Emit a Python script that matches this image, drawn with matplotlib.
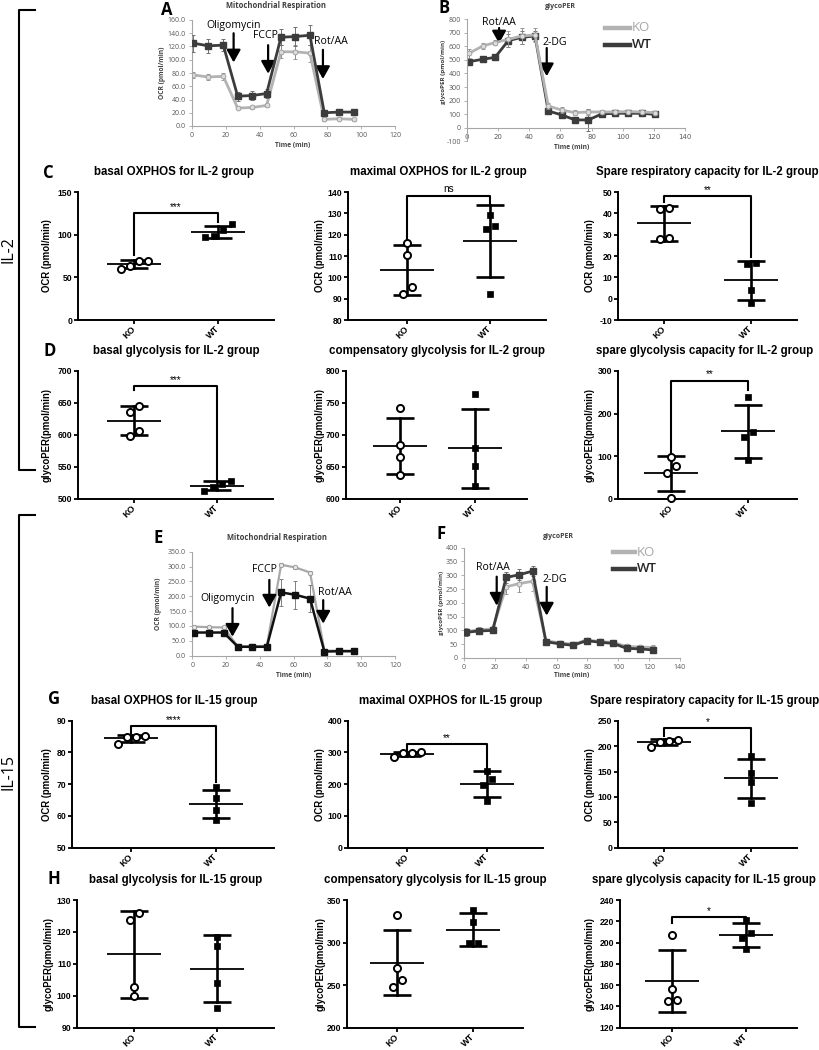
import numpy as np
import matplotlib
matplotlib.use('Agg')
import matplotlib.pyplot as plt
from matplotlib.lines import Line2D

# ---------------- data ----------------
groups = ['KO', 'WT']

# Panel A: IL-2 mitochondrial respiration (OCR)
time_A = [0.8, 9.6, 18.5, 27.0, 35.6, 44.1, 52.6, 61.0, 69.7, 78.2, 87.1, 95.8]
ocr_A_ko = [77, 74, 75, 27, 28, 31, 112, 112, 110, 10, 11, 10]
ocr_A_ko_err = [5, 5, 5, 2, 2, 2, 10, 11, 13, 2, 2, 2]
ocr_A_wt = [125, 121, 122, 45, 46, 49, 134, 135, 137, 20, 21, 21]
ocr_A_wt_err = [13, 11, 9, 7, 7, 7, 12, 14, 15, 2, 2, 2]

# Panel B: IL-2 glycoPER
time_B = [1.3, 10.1, 18.0, 26.5, 35.1, 43.7, 52.2, 60.8, 69.4, 77.9, 86.5, 95.0, 103.6, 112.2, 120.7]
per_B_ko = [549, 603, 628, 652, 677, 684, 160, 130, 111, 116, 116, 116, 118, 116, 111]
per_B_ko_err = [35, 20, 20, 60, 60, 50, 20, 20, 20, 20, 15, 15, 15, 15, 15]
per_B_wt = [487, 505, 519, 642, 667, 677, 123, 94, 57, 57, 101, 106, 106, 106, 98]
per_B_wt_err = [20, 10, 10, 50, 50, 40, 10, 15, 25, 80, 10, 10, 10, 10, 10]

# Panel E: IL-15 mitochondrial respiration (OCR)
time_E = [0.8, 9.6, 18.5, 27.0, 35.6, 44.1, 52.6, 61.0, 69.7, 78.2, 87.1, 95.8]
ocr_E_ko = [98, 96, 95, 31, 32, 33, 306, 297, 280, 17, 17, 17]
ocr_E_ko_err = [3, 3, 3, 2, 2, 2, 5, 5, 5, 2, 2, 2]
ocr_E_wt = [78, 78, 78, 30, 30, 30, 213, 205, 192, 14, 15, 15]
ocr_E_wt_err = [3, 3, 3, 3, 3, 3, 45, 48, 45, 2, 2, 2]

# Panel F: IL-15 glycoPER
time_F = [1.3, 9.7, 18.6, 27.3, 35.8, 44.4, 53.1, 62.2, 70.8, 79.5, 88.1, 96.7, 105.4, 114.0, 122.7]
per_F_ko = [95, 103, 105, 258, 270, 278, 62, 55, 50, 65, 60, 56, 42, 40, 38]
per_F_ko_err = [15, 10, 10, 25, 30, 35, 8, 8, 8, 8, 8, 8, 8, 8, 8]
per_F_wt = [93, 98, 100, 292, 302, 315, 59, 51, 46, 63, 57, 53, 35, 33, 29]
per_F_wt_err = [12, 8, 8, 20, 20, 18, 8, 8, 8, 8, 8, 8, 8, 8, 8]

# Scatter panels (KO, WT replicate values)
basal_oxphos_il2_ko = [69, 69, 60, 63]
basal_oxphos_il2_wt = [112, 106, 98, 97]
max_oxphos_il2_ko = [116, 110.5, 95.5, 92]
max_oxphos_il2_wt = [129, 124, 122.5, 92]
spare_resp_il2_ko = [42.5, 42, 28.5, 28]
spare_resp_il2_wt = [16.5, 16.2, 4, -2]

basal_glyco_il2_ko = [646, 636, 607, 599]
basal_glyco_il2_wt = [528, 524, 518, 512]
comp_glyco_il2_ko = [742, 685, 665, 638]
comp_glyco_il2_wt = [764, 680, 652, 620]
spare_glyco_il2_ko = [98, 78, 62, 2]
spare_glyco_il2_wt = [240, 157, 145, 92]

basal_oxphos_il15_ko = [85.2, 84.8, 85.0, 82.8]
basal_oxphos_il15_wt = [69, 65.5, 62, 58.7]
max_oxphos_il15_ko = [287, 297, 298, 300]
max_oxphos_il15_wt = [242, 215, 196, 146]
spare_resp_il15_ko = [199, 212, 211, 208]
spare_resp_il15_wt = [180, 148, 129, 88]

basal_glyco_il15_ko = [125.8, 123.7, 102.7, 99.8]
basal_glyco_il15_wt = [118.3, 115.7, 104, 96.1]
comp_glyco_il15_ko = [332, 270, 256, 248]
comp_glyco_il15_wt = [338, 324.5, 299.5, 299]
spare_glyco_il15_ko = [207, 156, 146, 145.5]
spare_glyco_il15_wt = [221, 209, 204, 194]

# ---------------- figure ----------------
W, H = 819, 1050
fig = plt.figure(figsize=(W / 100, H / 100), dpi=100)
SANS = ['Liberation Sans', 'DejaVu Sans']
XL = ['Open Sans', 'DejaVu Sans']


def add_ax(L, R, T, B):
    return fig.add_axes([L / W, 1 - B / H, (R - L) / W, (B - T) / H])


def ftxt(x, y, s, **kw):
    kw.setdefault('ha', 'center')
    kw.setdefault('va', 'center')
    fig.text(x / W, 1 - y / H, s, **kw)


KO_C = '#b3b3b3'
WT_C = '#3c3c3c'
AX_C = '#a6a6a6'
TK_C = '#595959'


def excel_axes(ax, xlim, ylim, xticks, yticks, yfmt):
    ax.set_xlim(xlim)
    ax.set_ylim(ylim)
    for s in ['top', 'right']:
        ax.spines[s].set_visible(False)
    for s in ['left', 'bottom']:
        ax.spines[s].set_color(AX_C)
        ax.spines[s].set_linewidth(0.8)
    ax.set_xticks(xticks)
    ax.set_yticks(yticks)
    ax.set_yticklabels([yfmt % v for v in yticks])
    ax.tick_params(axis='both', length=2.5, width=0.6, color=AX_C, labelsize=5,
                   labelcolor=TK_C, pad=2)
    for lab in ax.get_xticklabels() + ax.get_yticklabels():
        lab.set_family(XL)
    ax.patch.set_alpha(0)


def arrow(ax, x, y0, y1):
    ax.annotate('', xy=(x, y1), xytext=(x, y0), xycoords='data',
                arrowprops=dict(arrowstyle='-|>,head_width=0.42,head_length=0.75',
                                lw=1.6, color='black', shrinkA=0, shrinkB=0,
                                mutation_scale=10),
                annotation_clip=False)


def lbl(ax, x, y, s):
    ax.text(x, y, s, ha='center', va='center', fontsize=7.6, family=XL,
            clip_on=False)


# ---- Panel A ----
axA = add_ax(192, 395, 20, 126)
excel_axes(axA, (0, 120), (0, 160), range(0, 121, 20), range(0, 161, 20), '%.1f')
axA.errorbar(time_A, ocr_A_ko, yerr=ocr_A_ko_err, color=KO_C, lw=2, marker='o', ms=3.5,
             mfc='#dcdcdc', mec='#9a9a9a', mew=0.6, ecolor='#8c8c8c', elinewidth=0.7,
             capsize=1.5, capthick=0.7, zorder=2)
axA.errorbar(time_A, ocr_A_wt, yerr=ocr_A_wt_err, color=WT_C, lw=2, marker='s', ms=4.5,
             mfc=WT_C, mec=WT_C, ecolor='#707070', elinewidth=0.7, capsize=1.5,
             capthick=0.7, zorder=3)
arrow(axA, 24.6, 140, 96)
arrow(axA, 45.0, 122, 79)
arrow(axA, 77.4, 115, 71)
lbl(axA, 24.8, 152, 'Oligomycin')
lbl(axA, 43.2, 137, 'FCCP')
lbl(axA, 82.0, 127, 'Rot/AA')
ftxt(276, 6, 'Mitochondrial Respiration', fontsize=5.5, fontweight='bold', family=XL,
     color='#404040')
ftxt(293, 146, 'Time (min)', fontsize=4.8, fontweight='bold', family=XL, color='#404040')
ftxt(163, 73, 'OCR (pmol/min)', fontsize=4.8, fontweight='bold', family=XL,
     color='#404040', rotation=90)
ftxt(167, 10, 'A', fontsize=12, fontweight='bold', family=XL)

# ---- Panel B ----
axB = add_ax(467, 685, 19.3, 141.2)
excel_axes(axB, (0, 140), (-100, 800), range(0, 141, 20), range(-100, 801, 100), '%d')
axB.spines['bottom'].set_position(('data', 0))
axB.errorbar(time_B, per_B_wt, yerr=per_B_wt_err, color=WT_C, lw=2, marker='s', ms=4.5,
             mfc=WT_C, mec=WT_C, ecolor='#707070', elinewidth=0.7, capsize=1.5,
             capthick=0.7, zorder=2)
axB.errorbar(time_B, per_B_ko, yerr=per_B_ko_err, color=KO_C, lw=2, marker='o', ms=3.5,
             mfc='#dcdcdc', mec='#9a9a9a', mew=0.6, ecolor='#8c8c8c', elinewidth=0.7,
             capsize=1.5, capthick=0.7, zorder=3)
arrow(axB, 20.6, 736, 622)
arrow(axB, 51.2, 588, 380)
lbl(axB, 20.2, 780, 'Rot/AA')
lbl(axB, 56.5, 632, '2-DG')
ftxt(560, 6, 'glycoPER', fontsize=5, fontweight='bold', family=XL, color='#404040')
ftxt(572, 147, 'Time (min)', fontsize=4.8, fontweight='bold', family=XL, color='#404040')
ftxt(443, 72, 'glycoPER (pmol/min)', fontsize=4.5, fontweight='bold', family=XL,
     color='#404040', rotation=90)
ftxt(444, 8, 'B', fontsize=12, fontweight='bold', family=XL)
fig.add_artist(Line2D([605 / W, 630 / W], [1 - 27.5 / H] * 2, color=KO_C, lw=3.2))
fig.add_artist(Line2D([605 / W, 630 / W], [1 - 45 / H] * 2, color=WT_C, lw=3.2))
ftxt(632, 27.5, 'KO', fontsize=9.5, family=XL, color='#a8a8a8', ha='left')
ftxt(632, 45, 'WT', fontsize=9.5, family=XL, color='#262626', ha='left',
     fontweight='semibold')

# ---- Panel E ----
axE = add_ax(192.3, 395, 551.7, 655.7)
excel_axes(axE, (0, 120), (0, 350), range(0, 121, 20), range(0, 351, 50), '%.1f')
axE.errorbar(time_E, ocr_E_ko, yerr=ocr_E_ko_err, color='#a9a9a9', lw=1.6, marker='o',
             ms=3.2, mfc='#e6e6e6', mec='#8f8f8f', mew=0.6, ecolor='#8c8c8c',
             elinewidth=0.7, capsize=1.5, capthick=0.7, zorder=2)
axE.errorbar(time_E, ocr_E_wt, yerr=ocr_E_wt_err, color='#111111', lw=1.8, marker='s',
             ms=4.3, mfc='#111111', mec='#111111', ecolor='#808080', elinewidth=0.7,
             capsize=1.5, capthick=0.7, zorder=3)
arrow(axE, 23.8, 160, 64)
arrow(axE, 45.6, 255, 162)
arrow(axE, 77.5, 187, 108)
lbl(axE, 20.8, 194, 'Oligomycin')
lbl(axE, 43.0, 289, 'FCCP')
lbl(axE, 84.3, 214, 'Rot/AA')
ftxt(277, 538, 'Mitochondrial Respiration', fontsize=5.5, fontweight='bold', family=XL,
     color='#404040')
ftxt(293.5, 676, 'Time (min)', fontsize=4.8, fontweight='bold', family=XL, color='#404040')
ftxt(158, 604, 'OCR (pmol/min)', fontsize=4.8, fontweight='bold', family=XL,
     color='#404040', rotation=90)
ftxt(158, 538, 'E', fontsize=12, fontweight='bold', family=XL)

# ---- Panel F ----
axF = add_ax(464, 680, 547.7, 658)
excel_axes(axF, (0, 140), (0, 400), range(0, 141, 20), range(0, 401, 50), '%d')
axF.errorbar(time_F, per_F_ko, yerr=per_F_ko_err, color=KO_C, lw=2, marker='o', ms=3.5,
             mfc='#dcdcdc', mec='#9a9a9a', mew=0.6, ecolor='#8c8c8c', elinewidth=0.7,
             capsize=1.5, capthick=0.7, zorder=2)
axF.errorbar(time_F, per_F_wt, yerr=per_F_wt_err, color=WT_C, lw=2, marker='s', ms=4.2,
             mfc=WT_C, mec=WT_C, ecolor='#707070', elinewidth=0.7, capsize=1.5,
             capthick=0.7, zorder=3)
arrow(axF, 21.2, 295, 190)
arrow(axF, 53.6, 258, 154)
lbl(axF, 18.5, 327, 'Rot/AA')
lbl(axF, 58.7, 283, '2-DG')
ftxt(558, 537, 'glycoPER', fontsize=5, fontweight='bold', family=XL, color='#404040')
ftxt(572, 676, 'Time (min)', fontsize=4.8, fontweight='bold', family=XL, color='#404040')
ftxt(441, 603, 'glycoPER (pmol/min)', fontsize=4.5, fontweight='bold', family=XL,
     color='#404040', rotation=90)
ftxt(441, 534, 'F', fontsize=12, fontweight='bold', family=XL)
fig.add_artist(Line2D([613 / W, 635 / W], [1 - 552 / H] * 2, color=KO_C, lw=3.2))
fig.add_artist(Line2D([613 / W, 635 / W], [1 - 569 / H] * 2, color=WT_C, lw=3.2))
ftxt(637, 552, 'KO', fontsize=9.5, family=XL, color='#a8a8a8', ha='left')
ftxt(637, 569, 'WT', fontsize=9.5, family=XL, color='#262626', ha='left',
     fontweight='semibold')


# ---------------- scatter (GraphPad style) panels ----------------
def dodge(vals, ylim, hpx, step=9.0, thr=7.5):
    v = np.asarray(vals, float)
    p = (v - ylim[0]) / (ylim[1] - ylim[0]) * hpx
    order = np.argsort(p)
    offs = np.zeros(len(v))
    grps, cur = [], [order[0]]
    for i in order[1:]:
        if p[i] - p[cur[-1]] < thr:
            cur.append(i)
        else:
            grps.append(cur)
            cur = [i]
    grps.append(cur)
    for g in grps:
        n = len(g)
        for j, idx in enumerate(g):
            offs[idx] = (j - (n - 1) / 2) * step
    return offs


def scatter_panel(box, ticks_pos, ylim, yticks, ko, wt, title, title_x, ylabel, ylabel_x,
                  sig=None):
    L, R, T, B = box
    k, w = ticks_pos
    unit = w - k
    ax = add_ax(L, R, T, B)
    ax.set_xlim((L - k) / unit, (R - k) / unit)
    ax.set_ylim(ylim)
    for s in ['top', 'right']:
        ax.spines[s].set_visible(False)
    for s in ['left', 'bottom']:
        ax.spines[s].set_linewidth(1.4)
    ax.set_xticks([0, 1])
    ax.set_xticklabels(groups, rotation=45, ha='right', va='center',
                       rotation_mode='anchor', fontsize=6.6, fontweight='bold', family=SANS)
    ax.set_yticks(yticks)
    ax.set_yticklabels([str(t) for t in yticks], fontsize=6.2, fontweight='bold',
                       family=SANS)
    ax.tick_params(axis='both', length=3.0, width=1.3, pad=1.0)
    ax.tick_params(axis='x', pad=2.5)
    hpx = B - T
    for pos, vals, mk in [(0, ko, 'o'), (1, wt, 's')]:
        vals = np.asarray(vals, float)
        m = vals.mean()
        sd = vals.std(ddof=1)
        ax.plot([pos - 27 / unit, pos + 27 / unit], [m, m], color='black', lw=1.3,
                zorder=2, solid_capstyle='butt')
        ax.plot([pos, pos], [m - sd, m + sd], color='black', lw=1.9, zorder=2)
        for yy in (m - sd, m + sd):
            ax.plot([pos - 14 / unit, pos + 14 / unit], [yy, yy], color='black', lw=1.9,
                    zorder=2, solid_capstyle='butt')
        offs = dodge(vals, ylim, hpx)
        if mk == 'o':
            ax.scatter(pos + offs / unit, vals, s=26, marker='o', facecolor='white',
                       edgecolor='black', linewidth=1.4, zorder=3, clip_on=False)
        else:
            ax.scatter(pos + offs / unit, vals, s=22, marker='s', facecolor='black',
                       edgecolor='black', linewidth=0.5, zorder=3, clip_on=False)
    if sig is not None:
        yt, yl, yr, txt = sig
        ax.plot([0, 0, 1, 1], [yl, yt, yt, yr], color='black', lw=1.5, clip_on=False,
                zorder=2)
        ax.annotate(txt, xy=(0.5, yt), xytext=(0, 1.0), textcoords='offset points',
                    ha='center', va='bottom', fontsize=7.2, family=SANS,
                    annotation_clip=False)
    ftxt(title_x, T - 20, title, fontsize=8.3, fontweight='bold', family=SANS)
    ftxt(ylabel_x, (T + B) / 2, ylabel, fontsize=6.9, fontweight='bold', family=SANS,
         rotation=90)
    return ax


OCR = 'OCR (pmol/min)'
GLY = 'glycoPER(pmol/min)'

# Row C
scatter_panel((78, 274, 192, 320), (134, 218), (0, 150), [0, 50, 100, 150],
              basal_oxphos_il2_ko, basal_oxphos_il2_wt, 'basal OXPHOS for IL-2 group', 174,
              OCR, 47, sig=(125, 76, 115, '***'))
scatter_panel((348, 546, 192, 320), (407, 490), (80, 140), list(range(80, 141, 10)),
              max_oxphos_il2_ko, max_oxphos_il2_wt, 'maximal OXPHOS for IL-2 group', 438,
              OCR, 320, sig=(138.3, 116, 134, 'ns'))
scatter_panel((618, 797, 192, 320), (664, 751), (-10, 50), list(range(-10, 51, 10)),
              spare_resp_il2_ko, spare_resp_il2_wt,
              'Spare respiratory capacity for IL-2 group', 707, OCR, 590,
              sig=(48, 45.5, 19.7, '**'))
# Row D
scatter_panel((78, 273, 371, 499), (134, 217), (500, 700), list(range(500, 701, 50)),
              basal_glyco_il2_ko, basal_glyco_il2_wt, 'basal glycolysis for IL-2 group', 176,
              GLY, 47, sig=(676.6, 670, 531, '***'))
scatter_panel((346, 527, 371, 499), (400, 475), (600, 800), list(range(600, 801, 50)),
              comp_glyco_il2_ko, comp_glyco_il2_wt,
              'compensatory glycolysis for IL-2 group', 437, GLY, 320)
scatter_panel((618, 797, 371, 499), (671, 748), (0, 300), [0, 100, 200, 300],
              spare_glyco_il2_ko, spare_glyco_il2_wt,
              'spare glycolysis capacity for IL-2 group', 705, GLY, 590,
              sig=(277, 108, 255, '**'))
# Row G
scatter_panel((72, 274, 720.7, 847.7), (131, 216), (50, 90), list(range(50, 91, 10)),
              basal_oxphos_il15_ko, basal_oxphos_il15_wt, 'basal OXPHOS for IL-15 group',
              174, OCR, 47, sig=(88.3, 86, 70.8, '****'))
scatter_panel((348, 543, 720.7, 847.7), (407, 487), (0, 400), [0, 100, 200, 300, 400],
              max_oxphos_il15_ko, max_oxphos_il15_wt, 'maximal OXPHOS for IL-15 group',
              451, OCR, 320, sig=(326.6, 307, 247, '**'))
scatter_panel((618, 797, 720.7, 847.7), (664, 751), (0, 250), list(range(0, 251, 50)),
              spare_resp_il15_ko, spare_resp_il15_wt,
              'Spare respiratory capacity for IL-15 group', 705, OCR, 590,
              sig=(235, 220, 186, '*'))
# Row H
scatter_panel((77, 274, 900, 1027.7), (134, 217), (90, 130), list(range(90, 131, 10)),
              basal_glyco_il15_ko, basal_glyco_il15_wt, 'basal glycolysis for IL-15 group',
              176, GLY, 49)
scatter_panel((347, 523, 900, 1027.7), (397, 473), (200, 350), [200, 250, 300, 350],
              comp_glyco_il15_ko, comp_glyco_il15_wt,
              'compensatory glycolysis for IL-15 group', 435.5, GLY, 321)
scatter_panel((620, 797, 900, 1027.7), (672, 746), (120, 240), list(range(120, 241, 20)),
              spare_glyco_il15_ko, spare_glyco_il15_wt,
              'spare glycolysis capacity for IL-15 group', 703.5, GLY, 590,
              sig=(223.8, 218, 221, '*'))

# panel letters
ftxt(48, 173, 'C', fontsize=12, fontweight='bold', family=XL)
ftxt(50, 351, 'D', fontsize=12, fontweight='bold', family=XL)
ftxt(54, 699, 'G', fontsize=12, fontweight='bold', family=XL)
ftxt(54, 879, 'H', fontsize=12, fontweight='bold', family=XL)


# group brackets on the left
def bracket(y0, y1, x=19, x1=35):
    fig.add_artist(Line2D([x1 / W, x / W, x / W, x1 / W],
                          [1 - y0 / H, 1 - y0 / H, 1 - y1 / H, 1 - y1 / H],
                          color='black', lw=1.5))


bracket(10, 470)
bracket(515, 1026.7)
ftxt(9, 250, 'IL-2', fontsize=11.5, family=XL, rotation=90)
ftxt(9, 772, 'IL-15', fontsize=11.5, family=XL, rotation=90)

fig.savefig('out.png', dpi=100)
